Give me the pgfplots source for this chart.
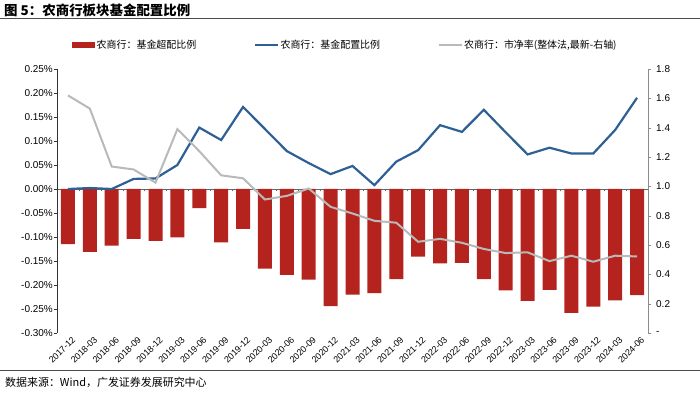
\documentclass[border=0pt]{standalone}
\usepackage{pgfplots}
\pgfplotsset{compat=1.18}
\usepackage{fontspec}
\setmainfont{Liberation Sans}
\newfontfamily\cjk{Noto Sans CJK SC}
\definecolor{barred}{RGB}{180,35,30}
\definecolor{lineblue}{RGB}{46,96,150}
\definecolor{linegray}{RGB}{185,185,185}

\pgfplotstableread{
x bar blue pb
0 -0.115 0.000 1.620
1 -0.131 0.002 1.530
2 -0.118 0.000 1.135
3 -0.104 0.021 1.115
4 -0.108 0.022 1.025
5 -0.101 0.050 1.390
6 -0.040 0.128 1.240
7 -0.111 0.102 1.075
8 -0.083 0.171 1.055
9 -0.166 0.125 0.910
10 -0.179 0.079 0.935
11 -0.189 0.054 0.985
12 -0.244 0.031 0.860
13 -0.220 0.048 0.815
14 -0.217 0.008 0.765
15 -0.188 0.057 0.752
16 -0.141 0.081 0.622
17 -0.155 0.133 0.642
18 -0.154 0.119 0.615
19 -0.188 0.165 0.573
20 -0.211 0.118 0.545
21 -0.233 0.072 0.550
22 -0.210 0.086 0.490
23 -0.258 0.074 0.527
24 -0.245 0.074 0.486
25 -0.232 0.123 0.527
26 -0.221 0.190 0.522
}\datatable

\begin{document}
\begin{tikzpicture}
\useasboundingbox (0,0) rectangle (700bp,402bp);
% title
\node[anchor=west, inner sep=0] at (4bp,392bp) {\cjk\bfseries\fontsize{13.5}{15}\selectfont 图 5：农商行板块基金配置比例};
\draw[line width=1bp, black!70] (0,383bp) -- (700bp,383bp);
% source
\draw[line width=1bp, black!70] (0,31bp) -- (700bp,31bp);
\node[anchor=west, inner sep=0] at (5bp,20bp) {\cjk\fontsize{11}{13}\selectfont 数据来源：Wind，广发证券发展研究中心};

% zero line with ticks
\begin{axis}[
  at={(57bp,69bp)}, anchor=south west, width=591bp, height=264bp, scale only axis,
  xmin=-0.5, xmax=26.5, ymin=-0.30, ymax=0.25,
  axis x line=middle, axis y line=none,
  xtick={-0.5,0.5,...,26.5}, xticklabels={},
  x axis line style={black!60, -}, xtick style={black!60},
  tick align=outside, major tick length=2.5bp,
]
\addplot[draw=none] coordinates {(0,0)};
\end{axis}

% left axis
\begin{axis}[
  at={(57bp,69bp)}, anchor=south west, width=591bp, height=264bp, scale only axis,
  xmin=-0.5, xmax=26.5, ymin=-0.30, ymax=0.25,
  axis x line*=bottom, axis y line*=left,
  x axis line style={draw=none},
  xtick={0,...,26},
  xticklabels={2017-12,2018-03,2018-06,2018-09,2018-12,2019-03,2019-06,2019-09,2019-12,2020-03,2020-06,2020-09,2020-12,2021-03,2021-06,2021-09,2021-12,2022-03,2022-06,2022-09,2022-12,2023-03,2023-06,2023-09,2023-12,2024-03,2024-06},
  major x tick style={draw=none},
  xticklabel style={rotate=45, anchor=north east, font=\fontsize{9}{10}\selectfont, inner sep=0.5bp, xshift=3bp, yshift=-2bp},
  ytick={-0.30,-0.25,-0.20,-0.15,-0.10,-0.05,0,0.05,0.10,0.15,0.20,0.25},
  yticklabels={-0.30\%,-0.25\%,-0.20\%,-0.15\%,-0.10\%,-0.05\%,0.00\%,0.05\%,0.10\%,0.15\%,0.20\%,0.25\%},
  yticklabel style={font=\fontsize{10}{12}\selectfont, inner sep=1bp},
  y axis line style={black!80},
  ytick style={black!80},
  tick align=outside, major tick length=3bp,
  /pgf/number format/assume math mode=true,
  clip=false,
  legend columns=3,
  legend style={at={(0.0254,1.0909)}, anchor=west, draw=none, fill=none,
    font=\cjk\fontsize{10}{12}\selectfont, inner sep=0pt,
    nodes={inner sep=1.5bp},
    /tikz/every even column/.append style={column sep=56bp}},
  legend cell align=left,
]
\addplot[ybar, bar width=14bp, fill=barred, draw=none,
  legend image code/.code={\fill[barred] (0bp,-3bp) rectangle (23bp,3bp);}]
  table[x=x, y=bar] {\datatable};
\addlegendentry{农商行：基金超配比例}
\addplot[lineblue, line width=2.2bp, sharp plot,
  legend image code/.code={\draw[lineblue, line width=2.2bp] (0bp,0bp) -- (23bp,0bp);}]
  table[x=x, y=blue] {\datatable};
\addlegendentry{农商行：基金配置比例}
\addlegendimage{legend image code/.code={\draw[linegray, line width=2bp] (0bp,0bp) -- (23bp,0bp);}}
\addlegendentry{农商行：市净率(整体法,最新-右轴)}
\end{axis}

% right axis
\begin{axis}[
  at={(57bp,69bp)}, anchor=south west, width=591bp, height=264bp, scale only axis,
  xmin=-0.5, xmax=26.5, ymin=0, ymax=1.8,
  axis y line*=right, axis x line=none,
  ytick={0,0.2,0.4,0.6,0.8,1.0,1.2,1.4,1.6,1.8},
  yticklabels={-,0.2,0.4,0.6,0.8,1.0,1.2,1.4,1.6,1.8},
  yticklabel style={font=\fontsize{10}{12}\selectfont, inner sep=1bp, xshift=4bp},
  y axis line style={black!45}, ytick style={black!45},
  tick align=outside, major tick length=3bp,
  /pgf/number format/assume math mode=true,
]
\addplot[linegray, line width=2bp, sharp plot] table[x=x, y=pb] {\datatable};
\end{axis}
\end{tikzpicture}
\end{document}
